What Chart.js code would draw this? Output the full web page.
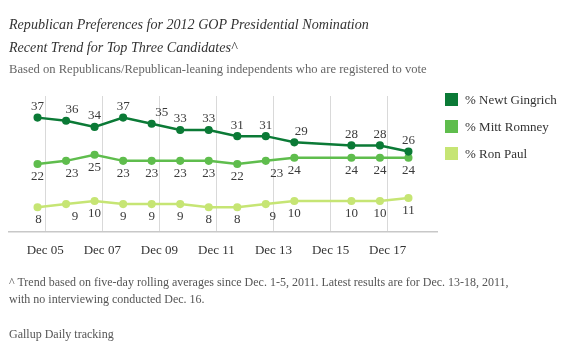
<!DOCTYPE html>
<html>
<head>
<meta charset="utf-8">
<script src="https://cdn.jsdelivr.net/npm/chart.js@4/dist/chart.umd.min.js"></script>
<style>
  html, body { margin: 0; padding: 0; background: #fff; }
  body { width: 570px; height: 352px; position: relative; overflow: hidden; font-family: "Liberation Serif", "DejaVu Serif", serif; color: #333; }
  #c { position: absolute; left: 0; top: 0; }
  .t { position: absolute; left: 9px; white-space: nowrap; }
  #title1, #title2 { font-style: italic; font-size: 14.1px; color: #333; }
  #title1 { top: 16px; }
  #title2 { top: 39px; }
  #sub { top: 62px; font-size: 12.6px; color: #666; }
  #foot1 { top: 275px; font-size: 12px; color: #555; }
  #foot2 { top: 292px; font-size: 12px; color: #555; }
  #src { top: 327px; font-size: 12px; color: #555; }
  #legend { position: absolute; left: 445px; top: 93px; }
  .li { position: relative; height: 27px; font-size: 13px; color: #333; }
  .sw { position: absolute; left: 0; top: 0; width: 13px; height: 13px; }
  .lt { position: absolute; left: 20px; top: -1px; white-space: nowrap; }
</style>
</head>
<body>
<canvas id="c" width="570" height="352"></canvas>
<div class="t" id="title1">Republican Preferences for 2012 GOP Presidential Nomination</div>
<div class="t" id="title2">Recent Trend for Top Three Candidates^</div>
<div class="t" id="sub">Based on Republicans/Republican-leaning independents who are registered to vote</div>
<div class="t" id="foot1">^ Trend based on five-day rolling averages since Dec. 1-5, 2011. Latest results are for Dec. 13-18, 2011,</div>
<div class="t" id="foot2">with no interviewing conducted Dec. 16.</div>
<div class="t" id="src">Gallup Daily tracking</div>
<div id="legend"></div>
<script>
// ---- data ----
const days = [5, 6, 7, 8, 9, 10, 11, 12, 13, 14, 16, 17, 18];   // December day of each reading
const gingrich = [37, 36, 34, 37, 35, 33, 33, 31, 31, 29, 28, 28, 26];
const romney   = [22, 23, 25, 23, 23, 23, 23, 22, 23, 24, 24, 24, 24];
const paul     = [8, 9, 10, 9, 9, 9, 8, 8, 9, 10, 10, 10, 11];
const seriesNames = ["% Newt Gingrich", "% Mitt Romney", "% Ron Paul"];
const tickDays = [5, 7, 9, 11, 13, 15, 17];
const tickLabels = ["Dec 05", "Dec 07", "Dec 09", "Dec 11", "Dec 13", "Dec 15", "Dec 17"];

// ---- styling ----
const colors = ["#0b7a36", "#5fbd4d", "#c6e574"];
const FONT = '"Liberation Serif", "DejaVu Serif", serif';
const labelSide = ["above", "below", "below"];
const labelShift = { 0: {1: 6, 4: 10, 9: 7}, 1: {1: 6, 8: 11}, 2: {0: 1, 1: 9, 8: 7} };

const toPts = vals => vals.map((v, i) => ({ x: days[i], y: v }));

const labelPlugin = {
  id: 'pointLabels',
  afterDatasetsDraw(chart) {
    const ctx = chart.ctx;
    ctx.save();
    ctx.font = '13px ' + FONT;
    ctx.fillStyle = '#3a3a3a';
    ctx.textAlign = 'center';
    ctx.textBaseline = 'middle';
    chart.data.datasets.forEach((ds, di) => {
      const meta = chart.getDatasetMeta(di);
      meta.data.forEach((pt, i) => {
        const dx = (labelShift[di] && labelShift[di][i]) || 0;
        const dy = labelSide[di] === 'above' ? -11 : 12.5;
        ctx.fillText(String(ds.data[i].y), pt.x + dx, pt.y + dy);
      });
    });
    ctx.restore();
  }
};

const datasets = [gingrich, romney, paul].map((vals, k) => ({
  label: seriesNames[k],
  data: toPts(vals),
  borderColor: colors[k],
  backgroundColor: colors[k],
  borderWidth: 2.5,
  pointRadius: 2.8,
  pointHoverRadius: 2.8,
  tension: 0
}));

const chart = new Chart(document.getElementById('c'), {
  type: 'line',
  data: { datasets },
  plugins: [labelPlugin],
  options: {
    responsive: false,
    animation: false,
    events: [],
    layout: { padding: { left: 9, right: 133, top: 96, bottom: 82.5 } },
    plugins: { legend: { display: false }, tooltip: { enabled: false } },
    scales: {
      x: {
        type: 'linear',
        min: 4, max: 19,
        afterBuildTicks(axis) { axis.ticks = tickDays.map(d => ({ value: d + 0.27 })); },
        grid: { color: '#d9d9d9', lineWidth: 1, drawTicks: false },
        border: { color: '#c8c8c8', width: 1.5 },
        ticks: {
          autoSkip: false, maxRotation: 0, padding: 11,
          font: { family: FONT, size: 13 }, color: '#333',
          callback: (v, i) => tickLabels[i]
        }
      },
      y: { display: false, min: 0, max: 44 }
    }
  }
});

// legend from chart datasets
const lg = document.getElementById('legend');
chart.data.datasets.forEach(ds => {
  const row = document.createElement('div');
  row.className = 'li';
  const sw = document.createElement('div');
  sw.className = 'sw';
  sw.style.background = ds.borderColor;
  const tx = document.createElement('div');
  tx.className = 'lt';
  tx.textContent = ds.label;
  row.appendChild(sw); row.appendChild(tx);
  lg.appendChild(row);
});
</script>
</body>
</html>
